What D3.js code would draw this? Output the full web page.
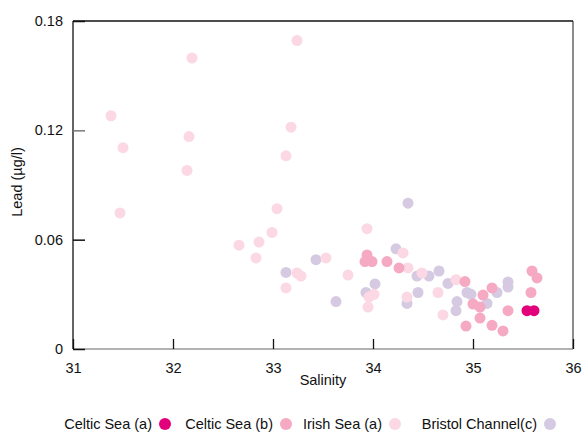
<!DOCTYPE html>
<html>
<head>
<meta charset="utf-8">
<script src="https://cdn.jsdelivr.net/npm/d3@7"></script>
<style>
  body { margin: 0; background: #fff; }
  text { font-family: "Liberation Sans", Arial, sans-serif; fill: #111; }
</style>
</head>
<body>
<div id="chart"></div>
<script>
// salinity / lead (ug/l) pairs per survey
const celticSeaA = [[35.54, 0.021], [35.61, 0.021]];

const celticSeaB = [
    [33.94, 0.0516], [33.92, 0.048], [33.99, 0.048], [34.14, 0.048], [34.26, 0.0445],
    [34.92, 0.037], [35.10, 0.0296], [35.19, 0.0335], [35.59, 0.0428], [35.64, 0.039],
    [35.58, 0.031], [35.35, 0.021], [35.00, 0.0247], [35.07, 0.023], [35.07, 0.017],
    [34.93, 0.0126], [35.19, 0.013], [35.30, 0.0099]
];

const irishSeaA = [
    [31.38, 0.128], [31.50, 0.1105], [31.47, 0.0747], [32.19, 0.1597], [32.16, 0.1166],
    [32.14, 0.098], [33.24, 0.1693], [33.18, 0.1217], [33.13, 0.106], [33.04, 0.077],
    [32.99, 0.064], [32.86, 0.0587], [32.66, 0.057], [32.83, 0.050], [33.13, 0.0335],
    [33.24, 0.0417], [33.28, 0.040], [33.53, 0.050], [33.75, 0.0406], [33.94, 0.066],
    [34.30, 0.0527], [34.35, 0.0445], [34.49, 0.0417], [34.01, 0.030], [33.96, 0.0285],
    [33.95, 0.023], [34.34, 0.0285], [34.83, 0.038], [34.65, 0.031], [34.70, 0.0187]
];

const bristolChannelC = [
    [33.13, 0.042], [33.43, 0.049], [33.63, 0.026], [34.35, 0.080], [34.23, 0.055],
    [34.44, 0.040], [34.56, 0.040], [34.66, 0.0428], [34.02, 0.0357], [33.93, 0.031],
    [34.45, 0.031], [34.34, 0.025], [34.75, 0.036], [34.84, 0.026], [34.83, 0.021],
    [34.94, 0.031], [34.98, 0.030], [35.14, 0.025], [35.24, 0.031], [35.35, 0.0368],
    [35.35, 0.034]
];

const xTicks = [31, 32, 33, 34, 35, 36];
const yTicks = [0, 0.06, 0.12, 0.18];
const yTickLabels = ["0", "0.06", "0.12", "0.18"];

// legend order vs draw order (bristol first, celtic a on top)
const legendNames = ["Celtic Sea (a)", "Celtic Sea (b)", "Irish Sea (a)", "Bristol Channel(c)"];
const seriesColors = ["#e3007b", "#f5a9c3", "#fbd8e3", "#d6cae2"];
const seriesData = [celticSeaA, celticSeaB, irishSeaA, bristolChannelC];

const width = 583, height = 432;
const margin = {top: 21, right: 10, bottom: 83, left: 73};
const fontSize = 14.5;

const svg = d3.select("#chart").append("svg")
    .attr("width", width)
    .attr("height", height);

const x = d3.scaleLinear().domain([31, 36]).range([margin.left, width - margin.right]);
const y = d3.scaleLinear().domain([0, 0.18]).range([height - margin.bottom, margin.top]);

// frame
svg.append("line").attr("x1", x(31)).attr("x2", x(36)).attr("y1", y(0)).attr("y2", y(0))
    .attr("stroke", "#999").attr("stroke-width", 1.5);
svg.append("line").attr("x1", x(36)).attr("x2", x(36)).attr("y1", y(0)).attr("y2", y(0.18))
    .attr("stroke", "#666").attr("stroke-width", 1.5);
svg.append("line").attr("x1", x(31)).attr("x2", x(36)).attr("y1", y(0.18)).attr("y2", y(0.18))
    .attr("stroke", "#111").attr("stroke-width", 1.3);
svg.append("line").attr("x1", x(31)).attr("x2", x(31)).attr("y1", y(0)).attr("y2", y(0.18))
    .attr("stroke", "#111").attr("stroke-width", 1.3);

// x axis, ticks pointing up into the plot
const xAxis = svg.append("g")
    .attr("transform", `translate(0,${y(0)})`)
    .call(d3.axisBottom(x).tickValues(xTicks).tickSize(-10).tickPadding(14).tickFormat(d3.format("d")));
xAxis.select(".domain").remove();
xAxis.selectAll(".tick line").attr("stroke", "#111").attr("stroke-width", 1.3);
xAxis.selectAll("text").attr("font-size", fontSize).attr("fill", "#111")
    .attr("font-family", "Liberation Sans, Arial, sans-serif");

// y axis, ticks pointing right
const yAxis = svg.append("g")
    .attr("transform", `translate(${x(31)},0)`)
    .call(d3.axisLeft(y).tickValues(yTicks).tickSize(-12).tickPadding(10)
        .tickFormat((d, i) => yTickLabels[i]));
yAxis.select(".domain").remove();
yAxis.selectAll(".tick line").attr("stroke", (d, i) => i == 2 ? "#777" : "#111").attr("stroke-width", 1.5);
yAxis.selectAll("text").attr("font-size", fontSize).attr("fill", "#111")
    .attr("font-family", "Liberation Sans, Arial, sans-serif");

svg.append("text")
    .attr("x", (x(31) + x(36)) / 2)
    .attr("y", 385)
    .attr("text-anchor", "middle")
    .attr("font-size", fontSize)
    .text("Salinity");

svg.append("text")
    .attr("transform", "translate(22,182) rotate(-90)")
    .attr("text-anchor", "middle")
    .attr("font-size", fontSize)
    .text("Lead (µg/l)");

// points, drawn bottom series first
const drawOrder = [3, 2, 1, 0];
drawOrder.forEach(i => {
    svg.append("g")
        .selectAll("circle")
        .data(seriesData[i])
        .enter()
        .append("circle")
        .attr("cx", d => x(d[0]))
        .attr("cy", d => y(d[1]))
        .attr("r", 5.5)
        .attr("fill", seriesColors[i]);
});

// legend: label then dot, anchored on the dot
const legendDotX = [165, 286, 395, 550];
const legend = svg.append("g")
    .selectAll("g")
    .data(legendNames)
    .enter()
    .append("g")
    .attr("transform", (d, i) => `translate(${legendDotX[i]},424)`);

legend.append("text")
    .attr("x", -13)
    .attr("text-anchor", "end")
    .attr("dominant-baseline", "central")
    .attr("font-size", fontSize)
    .text(d => d);

legend.append("circle")
    .attr("r", 6)
    .attr("fill", (d, i) => seriesColors[i]);
</script>
</body>
</html>
